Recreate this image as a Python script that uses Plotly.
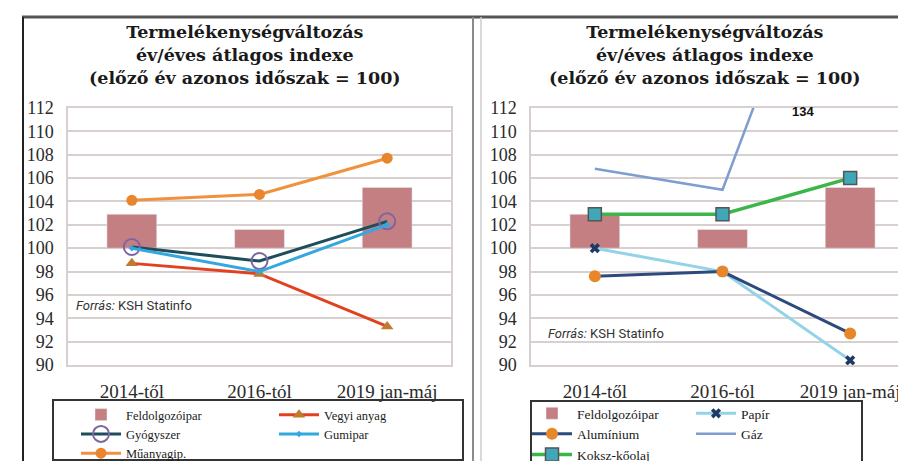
import plotly.graph_objects as go

W, H = 906, 461

# ---------------- data ----------------
categories = ["2014-től", "2016-tól", "2019 jan-máj"]
y_ticks = [90, 92, 94, 96, 98, 100, 102, 104, 106, 108, 110, 112]

feldolgozoipar = [102.9, 101.6, 105.2]
# left chart
vegyi_anyag = [98.7, 97.8, 93.3]
gyogyszer = [100.1, 98.9, 102.3]
gumipar = [100.0, 98.0, 102.0]
muanyagip = [104.1, 104.6, 107.7]
# right chart
papir = [100.0, 98.0, 90.4]
aluminium = [97.6, 98.0, 92.7]
gaz = [106.8, 105.0, 134.0]
koksz_koolaj = [102.9, 102.9, 106.0]

title_text = ("<b>Termelékenységváltozás<br>év/éves átlagos indexe<br>"
              "(előző év azonos időszak = 100)</b>")
source_text = "<i>Forrás:</i> KSH Statinfo"
gaz_label = "134"


def px(x):
    return x / W


def py(y):
    return 1 - y / H


BAR_COLOR = "#c47f82"
GRID = "#d8cfcf"
SERIF = "Liberation Serif"

fig = go.Figure()

# ---------------- left chart ----------------
fig.add_trace(go.Bar(x=categories, y=[v - 100 for v in feldolgozoipar], base=100,
                     name="Feldolgozóipar", marker_color=BAR_COLOR, width=0.39,
                     xaxis="x", yaxis="y", legend="legend"))
fig.add_trace(go.Scatter(x=categories, y=vegyi_anyag, name="Vegyi anyag", mode="lines+markers",
                         line=dict(color="#e2411f", width=3),
                         marker=dict(symbol="triangle-up", size=11, color="#c27a2e"),
                         xaxis="x", yaxis="y", legend="legend2"))
fig.add_trace(go.Scatter(x=categories, y=gyogyszer, name="Gyógyszer", mode="lines+markers",
                         line=dict(color="#1e4d5c", width=3),
                         marker=dict(symbol="circle-open", size=16, color="#8064a2",
                                     line=dict(width=2, color="#8064a2")),
                         xaxis="x", yaxis="y", legend="legend"))
fig.add_trace(go.Scatter(x=categories, y=gumipar, name="Gumipar", mode="lines+markers",
                         line=dict(color="#33a7de", width=3),
                         marker=dict(symbol="diamond", size=5, color="#33a7de"),
                         xaxis="x", yaxis="y", legend="legend2"))
fig.add_trace(go.Scatter(x=categories, y=muanyagip, name="Műanyagip.", mode="lines+markers",
                         line=dict(color="#f0913c", width=3),
                         marker=dict(symbol="circle", size=11, color="#e8852e"),
                         xaxis="x", yaxis="y", legend="legend"))

# ---------------- right chart ----------------
fig.add_trace(go.Bar(x=categories, y=[v - 100 for v in feldolgozoipar], base=100,
                     name="Feldolgozóipar", marker_color=BAR_COLOR, width=0.39,
                     xaxis="x2", yaxis="y2", legend="legend3"))
fig.add_trace(go.Scatter(x=categories, y=papir, name="Papír", mode="lines+markers",
                         line=dict(color="#93d3e8", width=3),
                         marker=dict(symbol="x", size=9, color="#1f3864"),
                         xaxis="x2", yaxis="y2", legend="legend4"))
fig.add_trace(go.Scatter(x=categories, y=gaz, name="Gáz", mode="lines",
                         line=dict(color="#7f9dd0", width=2.5),
                         xaxis="x2", yaxis="y2", legend="legend4"))
fig.add_trace(go.Scatter(x=categories, y=aluminium, name="Alumínium", mode="lines+markers",
                         line=dict(color="#2c4a7e", width=3),
                         marker=dict(symbol="circle", size=12, color="#e8862a"),
                         xaxis="x2", yaxis="y2", legend="legend3"))
fig.add_trace(go.Scatter(x=categories, y=koksz_koolaj, name="Koksz-kőolaj", mode="lines+markers",
                         line=dict(color="#3cb54a", width=3.5),
                         marker=dict(symbol="square", size=13, color="#3fa7b8",
                                     line=dict(width=1.5, color="#555555")),
                         xaxis="x2", yaxis="y2", legend="legend3"))

axis_common_x = dict(type="category", range=[-0.5, 2.5], showgrid=False, showline=True,
                     mirror=True, linecolor=GRID, linewidth=1.5,
                     tickfont=dict(family=SERIF, size=19, color="#2a2a2a"),
                     ticks="", ticklabelstandoff=8, zeroline=False, fixedrange=True)
axis_common_y = dict(range=[90, 112], tickvals=y_ticks, showgrid=True, gridcolor=GRID,
                     gridwidth=1.5, showline=True, mirror=True, linecolor=GRID, linewidth=1.5,
                     tickfont=dict(family=SERIF, size=18, color="#2a2a2a"),
                     ticks="", ticklabelstandoff=9, zeroline=False, fixedrange=True)

legend_common = dict(orientation="v", bgcolor="rgba(0,0,0,0)", borderwidth=0,
                     xanchor="left", yanchor="top", itemwidth=40,
                     traceorder="normal", itemclick=False, itemdoubleclick=False)

fig.update_layout(
    width=W, height=H,
    margin=dict(l=0, r=0, t=0, b=0, autoexpand=False),
    paper_bgcolor="white", plot_bgcolor="white",
    barmode="overlay",
    xaxis=dict(domain=[px(60), px(443)], anchor="y", **axis_common_x),
    yaxis=dict(domain=[py(357), py(100)], anchor="x", **axis_common_y),
    xaxis2=dict(domain=[px(523), 1.0], anchor="y2", **axis_common_x),
    yaxis2=dict(domain=[py(357), py(100)], anchor="x2", **axis_common_y),
    legend=dict(x=px(68), y=py(392), font=dict(family=SERIF, size=12.5, color="#1a1a1a"),
                **legend_common),
    legend2=dict(x=px(266), y=py(392), font=dict(family=SERIF, size=12.5, color="#1a1a1a"),
                 **legend_common),
    legend3=dict(x=px(519), y=py(390), font=dict(family=SERIF, size=13.5, color="#1a1a1a"),
                 **legend_common),
    legend4=dict(x=px(683), y=py(390), font=dict(family=SERIF, size=13.5, color="#1a1a1a"),
                 **legend_common),
    hovermode=False,
)

annotations = [
    dict(x=px(237), y=py(47), xref="paper", yref="paper", text=title_text, showarrow=False,
         font=dict(family="DejaVu Serif", size=17.5, color="#1a1a1a"), align="center",
         xanchor="center", yanchor="middle"),
    dict(x=px(697), y=py(47), xref="paper", yref="paper", text=title_text, showarrow=False,
         font=dict(family="DejaVu Serif", size=17.5, color="#1a1a1a"), align="center",
         xanchor="center", yanchor="middle"),
    dict(x=px(66), y=py(297), xref="paper", yref="paper", text=source_text, showarrow=False,
         font=dict(family="Roboto", size=13, color="#333333"), xanchor="left", yanchor="middle"),
    dict(x=px(538), y=py(325), xref="paper", yref="paper", text=source_text, showarrow=False,
         font=dict(family="Roboto", size=13, color="#333333"), xanchor="left", yanchor="middle"),
    dict(x=1.63, y=111.7, xref="x2", yref="y2", text="<b>" + gaz_label + "</b>", showarrow=False,
         font=dict(family="Liberation Sans", size=13, color="#111111"),
         xanchor="center", yanchor="middle"),
]
fig.update_layout(annotations=annotations)

shapes = [
    # page frame
    dict(type="line", xref="paper", yref="paper", x0=px(14), x1=1.0, y0=py(9), y1=py(9),
         line=dict(color="#555555", width=3)),
    dict(type="line", xref="paper", yref="paper", x0=px(15), x1=px(15), y0=py(9), y1=0,
         line=dict(color="#222222", width=2)),
    dict(type="line", xref="paper", yref="paper", x0=px(465), x1=px(465), y0=py(9), y1=0,
         line=dict(color="#8a8a8a", width=2)),
    dict(type="line", xref="paper", yref="paper", x0=px(473), x1=px(473), y0=py(9), y1=0,
         line=dict(color="#cccccc", width=1.5)),
    # legend boxes
    dict(type="rect", xref="paper", yref="paper", x0=px(45), x1=px(455), y0=py(452), y1=py(392),
         line=dict(color="#333333", width=2)),
    dict(type="rect", xref="paper", yref="paper", x0=px(523), x1=px(854), y0=py(470), y1=py(393),
         line=dict(color="#333333", width=2)),
]
fig.update_layout(shapes=shapes)

fig.write_html("out.html")
